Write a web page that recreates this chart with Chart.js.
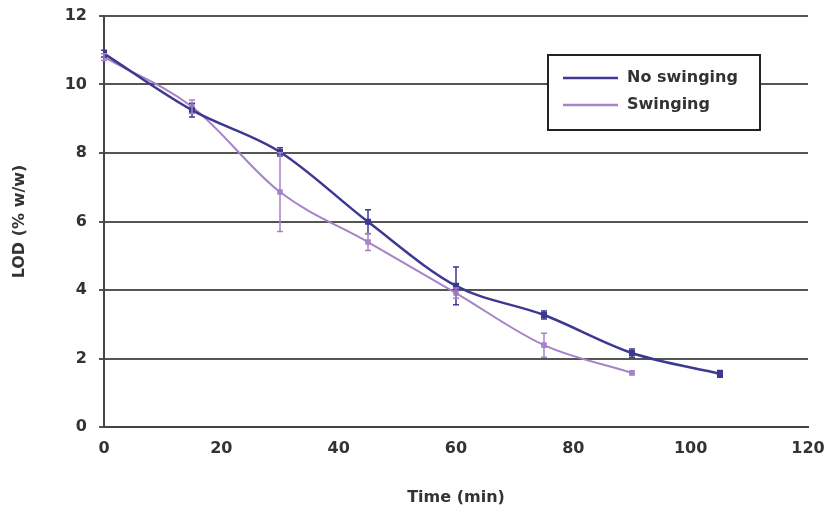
<!DOCTYPE html>
<html>
<head>
<meta charset="utf-8">
<script src="https://cdn.jsdelivr.net/npm/chart.js@4/dist/chart.umd.min.js"></script>
<style>
  html, body { margin: 0; padding: 0; background: #fff; }
  #wrap { width: 825px; height: 511px; }
</style>
</head>
<body>
<div id="wrap"><canvas id="myChart"></canvas></div>
<script>
/* LOD vs time, with and without swinging */
const timeNoSwing = [0, 15, 30, 45, 60, 75, 90, 105];
const lodNoSwing = [10.9, 9.25, 8.03, 5.99, 4.12, 3.27, 2.16, 1.55];
const errNoSwing = [0.1, 0.2, 0.12, 0.35, 0.55, 0.12, 0.12, 0.1];

const timeSwing = [0, 15, 30, 45, 60, 75, 90];
const lodSwing = [10.8, 9.35, 6.86, 5.4, 3.91, 2.39, 1.58];
const errSwing = [0.1, 0.2, 1.15, 0.25, 0.15, 0.35, 0.05];

const xTicks = [0, 20, 40, 60, 80, 100, 120];
const yTicks = [0, 2, 4, 6, 8, 10, 12];

const colNoSwing = "#3d3892";
const colSwing = "#a682c8";
const tickFont = { family: "DejaVu Sans", size: 16, weight: "bold" };

function toPoints(xs, ys) {
  return xs.map((x, i) => ({ x: x, y: ys[i] }));
}

/* error bars drawn from the data through the chart scales */
const errorBars = {
  id: "errorBars",
  afterDatasetsDraw(chart) {
    const ctx = chart.ctx;
    const xs = chart.scales.x;
    const ys = chart.scales.y;
    const sets = [
      { t: timeNoSwing, v: lodNoSwing, e: errNoSwing, c: colNoSwing },
      { t: timeSwing, v: lodSwing, e: errSwing, c: colSwing },
    ];
    ctx.save();
    sets.forEach((s) => {
      ctx.strokeStyle = s.c;
      ctx.lineWidth = 1.5;
      s.t.forEach((t, i) => {
        const px = xs.getPixelForValue(t);
        const top = ys.getPixelForValue(s.v[i] + s.e[i]);
        const bot = ys.getPixelForValue(s.v[i] - s.e[i]);
        ctx.beginPath();
        ctx.moveTo(px, top);
        ctx.lineTo(px, bot);
        ctx.moveTo(px - 3, top);
        ctx.lineTo(px + 3, top);
        ctx.moveTo(px - 3, bot);
        ctx.lineTo(px + 3, bot);
        ctx.stroke();
      });
    });
    ctx.restore();
  },
};

/* boxed legend inside the plot */
const boxLegend = {
  id: "boxLegend",
  afterDraw(chart) {
    const ctx = chart.ctx;
    const a = chart.chartArea;
    const x0 = a.left + 444;
    const y0 = a.top + 39;
    const w = 212;
    const h = 75;
    ctx.save();
    ctx.fillStyle = "#fff";
    ctx.fillRect(x0, y0, w, h);
    ctx.strokeStyle = "#222";
    ctx.lineWidth = 2;
    ctx.strokeRect(x0, y0, w, h);
    const items = [
      { label: "No swinging", c: colNoSwing },
      { label: "Swinging", c: colSwing },
    ];
    ctx.font = "bold 16px 'DejaVu Sans'";
    ctx.textBaseline = "middle";
    items.forEach((it, i) => {
      const ly = y0 + 23 + i * 27;
      ctx.strokeStyle = it.c;
      ctx.lineWidth = 2.5;
      ctx.beginPath();
      ctx.moveTo(x0 + 15, ly);
      ctx.lineTo(x0 + 70, ly);
      ctx.stroke();
      ctx.fillStyle = "#333";
      ctx.fillText(it.label, x0 + 79, ly);
    });
    ctx.restore();
  },
};

const config = {
  type: "line",
  data: {
    datasets: [
      {
        label: "No swinging",
        data: toPoints(timeNoSwing, lodNoSwing),
        borderColor: colNoSwing,
        backgroundColor: colNoSwing,
        borderWidth: 2.5,
        pointStyle: "rect",
        pointRadius: 2.5,
        cubicInterpolationMode: "monotone",
      },
      {
        label: "Swinging",
        data: toPoints(timeSwing, lodSwing),
        borderColor: colSwing,
        backgroundColor: colSwing,
        borderWidth: 2,
        pointStyle: "rect",
        pointRadius: 2.5,
        cubicInterpolationMode: "monotone",
      },
    ],
  },
  options: {
    responsive: true,
    maintainAspectRatio: false,
    animation: false,
    layout: { padding: { top: 16, right: 17, bottom: 4, left: 10 } },
    plugins: {
      legend: { display: false },
      tooltip: { enabled: false },
    },
    scales: {
      x: {
        type: "linear",
        min: 0,
        max: 120,
        afterBuildTicks: (s) => { s.ticks = xTicks.map((v) => ({ value: v })); },
        afterFit: (s) => {
          s.height = 80;
          s.paddingLeft = 0;
          s.paddingRight = 0;
        },
        grid: { display: false, drawTicks: true, tickLength: 5, color: "#444" },
        border: { display: true, color: "#444", width: 2 },
        ticks: { color: "#333", font: tickFont, padding: 7, maxRotation: 0 },
        title: {
          display: true,
          text: "Time (min)",
          color: "#333",
          font: tickFont,
          padding: 0,
        },
      },
      y: {
        min: 0,
        max: 12,
        afterBuildTicks: (s) => { s.ticks = yTicks.map((v) => ({ value: v })); },
        afterFit: (s) => {
          s.width = 94;
          s.paddingTop = 0;
          s.paddingBottom = 0;
        },
        grid: { color: "#555", lineWidth: 2, tickLength: 5 },
        border: { display: true, color: "#444", width: 2 },
        ticks: { color: "#333", font: tickFont, padding: 12 },
        title: {
          display: true,
          text: "LOD (% w/w)",
          color: "#333",
          font: tickFont,
          padding: 0,
        },
      },
    },
  },
  plugins: [errorBars, boxLegend],
};

var myChart = new Chart(document.getElementById("myChart"), config);
</script>
</body>
</html>
